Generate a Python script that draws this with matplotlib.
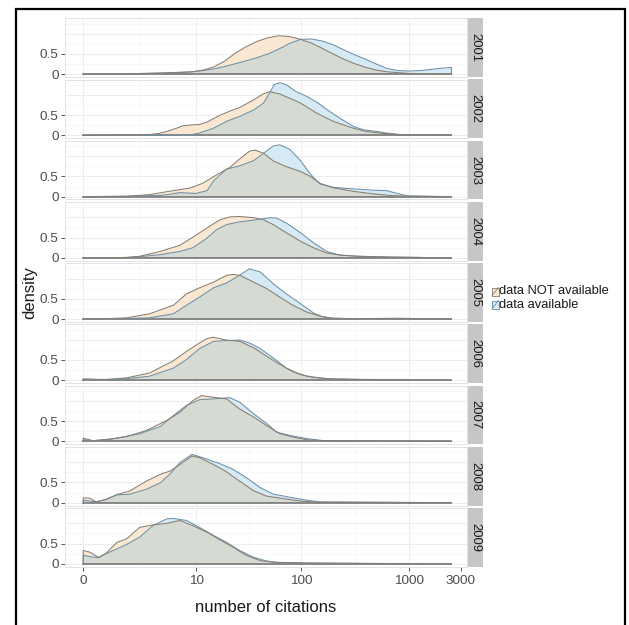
import numpy as np
import matplotlib
matplotlib.use("Agg")
import matplotlib.pyplot as plt
from matplotlib.patches import Rectangle
from matplotlib.lines import Line2D

plt.rcParams['font.family'] = ['Liberation Sans', 'DejaVu Sans']

# ---------------- data ----------------
years = ['2001', '2002', '2003', '2004', '2005', '2006', '2007', '2008', '2009']
groups = ['data NOT available', 'data available']
tick_citations = [0, 10, 100, 1000, 3000]
tick_labels = ['0', '10', '100', '1000', '3000']
y_ticks = [0, 0.5]
y_tick_labels = ['0', '0.5']

# density curves; position = log10(number of citations + 1)
pos_2001_not = [0, 0.4, 0.8, 1.0, 1.1, 1.2, 1.3, 1.4, 1.5, 1.6, 1.7, 1.8, 1.9, 2.0, 2.1, 2.2, 2.3, 2.4, 2.5, 2.6, 2.7, 2.8, 2.9, 3.0, 3.1, 3.39]
den_2001_not = [0, 0.01, 0.04, 0.06, 0.10, 0.18, 0.32, 0.52, 0.68, 0.81, 0.90, 0.95, 0.93, 0.86, 0.77, 0.64, 0.50, 0.37, 0.26, 0.17, 0.10, 0.06, 0.04, 0.02, 0.01, 0.0]
pos_2001_av = [0, 0.4, 0.8, 1.0, 1.1, 1.2, 1.3, 1.4, 1.5, 1.6, 1.7, 1.8, 1.9, 2.0, 2.1, 2.2, 2.3, 2.4, 2.5, 2.6, 2.7, 2.8, 2.9, 3.0, 3.1, 3.2, 3.3, 3.39]
den_2001_av = [0, 0.01, 0.03, 0.06, 0.09, 0.13, 0.19, 0.26, 0.33, 0.41, 0.50, 0.62, 0.76, 0.86, 0.87, 0.82, 0.73, 0.60, 0.48, 0.37, 0.25, 0.14, 0.09, 0.08, 0.09, 0.12, 0.15, 0.17]

pos_2002_not = [0, 0.4, 0.6, 0.7, 0.77, 0.85, 0.92, 1.0, 1.07, 1.14, 1.26, 1.35, 1.44, 1.57, 1.66, 1.72, 1.81, 1.9, 2.0, 2.15, 2.3, 2.46, 2.6, 2.8, 3.0, 3.25, 3.39]
den_2002_not = [0, 0.01, 0.02, 0.05, 0.1, 0.17, 0.24, 0.26, 0.27, 0.33, 0.5, 0.6, 0.69, 0.88, 1.03, 1.08, 1.02, 0.92, 0.8, 0.55, 0.35, 0.2, 0.1, 0.04, 0.01, 0.02, 0.01]
pos_2002_av = [0, 0.8, 1.0, 1.07, 1.2, 1.32, 1.44, 1.57, 1.66, 1.72, 1.76, 1.81, 1.87, 1.96, 2.06, 2.15, 2.27, 2.36, 2.49, 2.58, 2.7, 2.79, 2.92, 3.1, 3.39]
den_2002_av = [0, 0.0, 0.02, 0.06, 0.18, 0.35, 0.47, 0.63, 0.8, 1.07, 1.26, 1.3, 1.25, 1.08, 0.96, 0.82, 0.59, 0.43, 0.22, 0.14, 0.1, 0.06, 0.02, 0.01, 0.01]

pos_2003_not = [0, 0.4, 0.61, 0.83, 0.98, 1.1, 1.23, 1.35, 1.44, 1.53, 1.58, 1.66, 1.75, 1.87, 2.0, 2.09, 2.18, 2.3, 2.49, 2.67, 2.82, 2.98, 3.39]
den_2003_not = [0, 0.01, 0.05, 0.15, 0.21, 0.33, 0.54, 0.72, 0.93, 1.12, 1.15, 1.07, 0.88, 0.74, 0.62, 0.5, 0.33, 0.22, 0.13, 0.07, 0.03, 0.01, 0]
pos_2003_av = [0, 0.4, 0.71, 0.77, 0.89, 1.04, 1.14, 1.2, 1.32, 1.44, 1.57, 1.66, 1.75, 1.81, 1.9, 2.0, 2.09, 2.18, 2.3, 2.49, 2.67, 2.79, 2.89, 2.98, 3.39]
den_2003_av = [0, 0.01, 0.03, 0.05, 0.1, 0.08, 0.15, 0.39, 0.68, 0.76, 0.89, 1.07, 1.25, 1.28, 1.17, 0.89, 0.56, 0.31, 0.23, 0.19, 0.16, 0.15, 0.08, 0.02, 0]

pos_2004_not = [0, 0.4, 0.52, 0.71, 0.89, 1.01, 1.14, 1.26, 1.35, 1.44, 1.57, 1.66, 1.75, 1.87, 2.0, 2.12, 2.24, 2.36, 2.52, 2.82, 3.39]
den_2004_not = [0, 0.01, 0.04, 0.16, 0.31, 0.51, 0.74, 0.94, 1.01, 1.02, 0.99, 0.94, 0.82, 0.62, 0.41, 0.25, 0.12, 0.07, 0.04, 0.02, 0]
pos_2004_av = [0, 0.4, 0.52, 0.71, 0.89, 1.01, 1.14, 1.23, 1.32, 1.44, 1.6, 1.72, 1.78, 1.87, 2.0, 2.12, 2.24, 2.36, 2.52, 2.82, 3.39]
den_2004_av = [0, 0.01, 0.03, 0.08, 0.16, 0.25, 0.49, 0.7, 0.82, 0.89, 0.94, 0.99, 0.98, 0.86, 0.62, 0.37, 0.16, 0.07, 0.04, 0.02, 0]

pos_2005_not = [0, 0.21, 0.4, 0.61, 0.83, 0.95, 1.07, 1.2, 1.32, 1.38, 1.44, 1.57, 1.69, 1.81, 1.93, 2.06, 2.18, 2.3, 2.5, 2.92, 3.1, 3.39]
den_2005_not = [0, 0.01, 0.03, 0.13, 0.34, 0.62, 0.77, 0.91, 1.08, 1.1, 1.08, 0.91, 0.75, 0.54, 0.34, 0.17, 0.07, 0.02, 0.01, 0.02, 0.01, 0]
pos_2005_av = [0, 0.37, 0.61, 0.83, 0.95, 1.07, 1.2, 1.32, 1.44, 1.53, 1.63, 1.75, 1.87, 2.0, 2.12, 2.21, 2.3, 2.5, 3.39]
den_2005_av = [0, 0.01, 0.03, 0.13, 0.34, 0.54, 0.77, 0.89, 1.08, 1.24, 1.16, 0.87, 0.62, 0.38, 0.15, 0.05, 0.02, 0.01, 0]

pos_2006_not = [0, 0.21, 0.4, 0.61, 0.83, 0.95, 1.07, 1.14, 1.2, 1.32, 1.44, 1.57, 1.69, 1.81, 1.93, 2.06, 2.24, 2.52, 3.39]
den_2006_not = [0.03, 0.02, 0.06, 0.18, 0.48, 0.71, 0.92, 1.03, 1.06, 0.99, 0.96, 0.8, 0.59, 0.39, 0.21, 0.1, 0.04, 0.02, 0]
pos_2006_av = [0, 0.21, 0.4, 0.61, 0.83, 0.95, 1.07, 1.2, 1.32, 1.44, 1.53, 1.63, 1.75, 1.87, 2.0, 2.12, 2.3, 3.39]
den_2006_av = [0.03, 0.01, 0.04, 0.1, 0.3, 0.51, 0.78, 0.96, 0.98, 0.99, 0.92, 0.78, 0.55, 0.3, 0.14, 0.07, 0.03, 0]

pos_2007_not = [0, 0.09, 0.21, 0.4, 0.58, 0.77, 0.89, 1.01, 1.09, 1.2, 1.32, 1.44, 1.57, 1.69, 1.81, 1.93, 2.06, 2.21, 3.39]
den_2007_not = [0.08, 0.02, 0.04, 0.12, 0.27, 0.52, 0.72, 1.01, 1.13, 1.09, 1.05, 0.8, 0.6, 0.39, 0.19, 0.11, 0.04, 0.02, 0]
pos_2007_av = [0, 0.09, 0.28, 0.52, 0.71, 0.83, 0.95, 1.07, 1.2, 1.35, 1.44, 1.57, 1.69, 1.78, 1.9, 2.06, 2.21, 3.39]
den_2007_av = [0.04, 0.02, 0.07, 0.19, 0.37, 0.64, 0.89, 1.03, 1.05, 1.08, 0.97, 0.68, 0.44, 0.23, 0.15, 0.07, 0.02, 0]

pos_2008_not = [0, 0.06, 0.12, 0.21, 0.31, 0.43, 0.58, 0.71, 0.8, 0.89, 1.0, 1.07, 1.2, 1.32, 1.44, 1.57, 1.69, 1.84, 2.0, 2.15, 3.39]
den_2008_not = [0.12, 0.11, 0.02, 0.08, 0.2, 0.29, 0.53, 0.7, 0.78, 0.94, 1.15, 1.11, 0.94, 0.76, 0.53, 0.29, 0.16, 0.1, 0.04, 0.01, 0]
pos_2008_av = [0, 0.12, 0.21, 0.31, 0.43, 0.58, 0.71, 0.8, 0.89, 1.0, 1.1, 1.26, 1.38, 1.5, 1.63, 1.75, 1.93, 2.06, 2.18, 3.39]
den_2008_av = [0.06, 0.02, 0.08, 0.19, 0.21, 0.33, 0.49, 0.71, 0.99, 1.19, 1.11, 0.96, 0.82, 0.62, 0.37, 0.21, 0.12, 0.06, 0.02, 0]

pos_2009_not = [0, 0.06, 0.14, 0.21, 0.31, 0.4, 0.52, 0.64, 0.77, 0.89, 1.01, 1.14, 1.26, 1.38, 1.5, 1.63, 1.75, 2.06, 2.67, 3.39]
den_2009_not = [0.33, 0.29, 0.16, 0.26, 0.53, 0.62, 0.9, 0.96, 1.0, 1.07, 0.94, 0.78, 0.59, 0.41, 0.21, 0.08, 0.04, 0.02, 0.01, 0]
pos_2009_av = [0, 0.06, 0.14, 0.21, 0.31, 0.4, 0.52, 0.64, 0.77, 0.83, 0.95, 1.07, 1.2, 1.32, 1.44, 1.57, 1.69, 1.81, 2.06, 2.67, 3.39]
den_2009_av = [0.21, 0.18, 0.15, 0.25, 0.37, 0.48, 0.66, 0.94, 1.11, 1.12, 1.07, 0.9, 0.7, 0.53, 0.33, 0.16, 0.07, 0.03, 0.02, 0.01, 0]

curves_not = [(pos_2001_not, den_2001_not), (pos_2002_not, den_2002_not), (pos_2003_not, den_2003_not),
              (pos_2004_not, den_2004_not), (pos_2005_not, den_2005_not), (pos_2006_not, den_2006_not),
              (pos_2007_not, den_2007_not), (pos_2008_not, den_2008_not), (pos_2009_not, den_2009_not)]
curves_av = [(pos_2001_av, den_2001_av), (pos_2002_av, den_2002_av), (pos_2003_av, den_2003_av),
             (pos_2004_av, den_2004_av), (pos_2005_av, den_2005_av), (pos_2006_av, den_2006_av),
             (pos_2007_av, den_2007_av), (pos_2008_av, den_2008_av), (pos_2009_av, den_2009_av)]

# ---------------- style ----------------
PEACH = '#F9E7D1'
BLUE = '#D5EAF5'
OVER = '#D5DAD2'
LINE_NOT = '#877D70'
LINE_AV = '#6C8FA6'
BASE = '#707070'
STRIP = '#C6C6C6'
TXT = '#4D4D4D'

W, H = 629, 625
fig = plt.figure(figsize=(W / 100, H / 100), dpi=100)

left_px, right_px = 65, 467
top0, step, ph = 18.3, 61.2, 58.8
xlim = (-0.168, 3.533)
ylim = (-0.07, 1.38)
tick_pos = [np.log10(c + 1) for c in tick_citations]
minor_pos = [(tick_pos[i] + tick_pos[i + 1]) / 2 for i in range(3)]

for i, yr in enumerate(years):
    top = top0 + i * step
    bottom = top + ph
    ax = fig.add_axes([left_px / W, 1 - bottom / H, (right_px - left_px) / W, ph / H])
    ax.set_xlim(*xlim)
    ax.set_ylim(*ylim)
    # grid
    for gx in tick_pos[:4]:
        ax.axvline(gx, color='#EDEDED', lw=0.7, zorder=0)
    for gx in minor_pos:
        ax.axvline(gx, color='#F6F6F6', lw=0.6, zorder=0)
    for gy in [0, 0.5, 1.0]:
        ax.axhline(gy, color='#EDEDED', lw=0.7, zorder=0)
    for gy in [0.25, 0.75, 1.25]:
        ax.axhline(gy, color='#F6F6F6', lw=0.6, zorder=0)

    pn, dn = curves_not[i]
    pa, da = curves_av[i]
    fine = np.linspace(0, max(pn[-1], pa[-1]), 1500)
    fn = np.interp(fine, pn, dn)
    fa = np.interp(fine, pa, da)
    ax.fill_between(fine, 0, fn, color=PEACH, lw=0, zorder=1)
    ax.fill_between(fine, 0, fa, color=BLUE, lw=0, zorder=1)
    ax.fill_between(fine, 0, np.minimum(fn, fa), color=OVER, lw=0, zorder=2)
    ax.plot([0, fine[-1]], [0, 0], color=BASE, lw=1.1, zorder=3)
    ax.plot([pa[0]] + list(pa) + [pa[-1]], [0] + list(da) + [0], color=LINE_AV, lw=0.75, zorder=4)
    ax.plot([pn[0]] + list(pn) + [pn[-1]], [0] + list(dn) + [0], color=LINE_NOT, lw=0.75, zorder=5)

    for s in ax.spines.values():
        s.set_color('#E3E3E3')
        s.set_linewidth(0.7)
    ax.set_yticks(y_ticks)
    ax.set_yticklabels(y_tick_labels)
    ax.tick_params(axis='y', length=3, width=0.7, color='#555555', labelsize=9.7,
                   labelcolor=TXT, pad=1.5)
    ax.set_xticks(tick_pos)
    if i == len(years) - 1:
        ax.set_xticklabels(tick_labels)
        ax.tick_params(axis='x', length=3, width=0.7, color='#555555', labelsize=9.7,
                       labelcolor=TXT, pad=3)
    else:
        ax.tick_params(axis='x', length=0, labelbottom=False)

    # facet strip
    fig.add_artist(Rectangle((468 / W, 1 - bottom / H), 15 / W, ph / H,
                             transform=fig.transFigure, facecolor=STRIP, edgecolor='none'))
    fig.text(475.5 / W, 1 - (top + ph / 2) / H, yr, rotation=-90, ha='center', va='center',
             fontsize=9.4, color='#1A1A1A')

# axis titles
fig.text(266 / W, 1 - 608 / H, 'number of citations', ha='center', va='center', fontsize=12, color='#1A1A1A')
fig.text(30 / W, 1 - 293 / H, 'density', rotation=90, ha='center', va='center', fontsize=12, color='#1A1A1A')

# legend
legend_fill = [PEACH, BLUE]
legend_line = [LINE_NOT, LINE_AV]
legend_y = [291.5, 304.5]
for lab, fc, lc, yc in zip(groups, legend_fill, legend_line, legend_y):
    x0, x1 = 492 / W, 498.5 / W
    y0, y1 = 1 - (yc + 4) / H, 1 - (yc - 4) / H
    fig.add_artist(Rectangle((x0, y0), x1 - x0, y1 - y0, transform=fig.transFigure,
                             facecolor=fc, edgecolor=lc, lw=0.6))
    fig.add_artist(Line2D([x0, x1], [y0, y1], transform=fig.transFigure, color=lc, lw=0.6))
    fig.text(499.5 / W, 1 - yc / H, lab, ha='left', va='center', fontsize=9.3, color='#1A1A1A')

# outer frame
fig.add_artist(Rectangle((15.5 / W, -0.01), (624.5 - 15.5) / W, 1 - 9 / H + 0.01,
                         transform=fig.transFigure, facecolor='none', edgecolor='black', lw=1.6))

fig.savefig('out.png', dpi=100)
